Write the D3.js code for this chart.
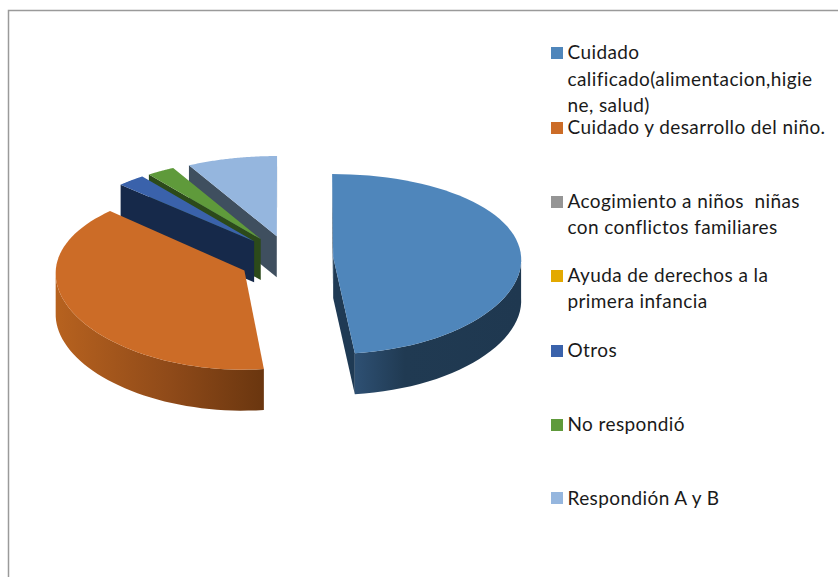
<!DOCTYPE html>
<html><head><meta charset="utf-8">
<script src="https://cdn.jsdelivr.net/npm/d3@7"></script>
<style>html,body{margin:0;padding:0;background:#fff}svg{display:block}text{font-family:Lato,"Open Sans",sans-serif;white-space:pre;letter-spacing:.4px}</style>
</head><body><svg id="c" width="838" height="577"></svg>
<script>
const categories = ["Cuidado calificado(alimentacion,higiene, salud)","Cuidado y desarrollo del niño.","Acogimiento a niños  niñas con conflictos familiares","Ayuda de derechos a la primera infancia","Otros","No respondió","Respondión A y B"];
const legendLines = [["Cuidado","calificado(alimentacion,higie","ne, salud)"],["Cuidado y desarrollo del niño."],["Acogimiento a niños  niñas","con conflictos familiares"],["Ayuda de derechos a la","primera infancia"],["Otros"],["No respondió"],["Respondión A y B"]];
const values = [48.3,38.7,0,0,2.5,2.5,8];
const explosion = [0.23,0.27,0,0,0.285,0.285,0.285];
const explosionY = [0.9,1.15,0.9,0.9,0.9,0.9,0.9];
const topColors = ["#4f86bb","#cc6c27","#959595","#e3a900","#3a62ab","#5f9a3b","#95b6de"];
const sideColors = ["#1f3a54","#8a4718","#555555","#7a5c00","#16294a","#2c4a1a","#3f4f5f"];
const wallStops = [["#2e5073","#203a52","#1f3850"],["#b7621f","#8f4a19","#6a360f"],null,null,null,null,null];
const legendY = [53,128,202,276,351,425,498];
const legendLineY = [[59,86,112],[134],[208,234],[282,308],[357],[431],[505]];

const svg = d3.select("#c");
const cx=290, cy=258, sx=188, sy=89.5, Dy=13, Dx=40, depth=41;
const proj=(x,y,z=0)=>{
  const p=Dy/(Dy+y), q=Dx/(Dx+y);
  return [cx+sx*x*q, cy-sy*y*p+depth*z];
};

const frame = svg.append("g").attr("fill","none").attr("stroke","#9a9a9a").attr("stroke-width",1.5);
frame.append("path").attr("d",d3.line()([[8.5,577],[8.5,10.5],[838,10.5]]));

const defs = svg.append("defs");
const arcs = d3.pie().sort(null).value(d=>d)(values);
const line = d3.line();
const drawOrder=[6,5,4,1,0];

drawOrder.forEach(i=>{
  const a=arcs[i], mid=(a.startAngle+a.endAngle)/2, e=explosion[i];
  const ox=e*Math.sin(mid), oy=e*Math.cos(mid)*explosionY[i];
  const pt=(t,r,z)=>proj(ox+r*Math.sin(t),oy+r*Math.cos(t),z);
  const ts=d3.range(0,61).map(k=>a.startAngle+(a.endAngle-a.startAngle)*k/60);
  const g=svg.append("g").attr("class","slice");
  const midPt=pt(mid,1,0), apex=pt(0,0,0);
  [a.startAngle,a.endAngle].forEach(t=>{
    const o=pt(t,1,0);
    const ly=apex[1]+(o[1]-apex[1])*(midPt[0]-apex[0])/(o[0]-apex[0]);
    if(midPt[1]<ly){
      g.append("path").attr("fill",sideColors[i])
       .attr("d",line([pt(0,0,0),pt(t,1,0),pt(t,1,1),pt(0,0,1)])+"Z");
    }
  });
  const front=ts.filter(t=>t>=Math.PI/2-0.02&&t<=Math.PI*1.5+0.02);
  if(front.length&&wallStops[i]){
    const xs=front.map(t=>pt(t,1,0)[0]);
    const gid="w"+i;
    const lg=defs.append("linearGradient").attr("id",gid).attr("gradientUnits","userSpaceOnUse")
      .attr("x1",d3.min(xs)).attr("x2",d3.max(xs)).attr("y1",0).attr("y2",0);
    const offs=i===0?[0,0.3,1]:[0,0.55,1];
    wallStops[i].forEach((c,k)=>lg.append("stop").attr("offset",offs[k]).attr("stop-color",c));
    const poly=[...front.map(t=>pt(t,1,0)),...front.slice().reverse().map(t=>pt(t,1,1))];
    g.append("path").attr("fill",`url(#${gid})`).attr("d",line(poly)+"Z");
  }
  g.append("path").attr("fill",topColors[i]).attr("d",line([apex,...ts.map(t=>pt(t,1,0))])+"Z");
});

const lg=svg.append("g");
categories.forEach((c,i)=>{
  lg.append("rect").attr("x",551).attr("y",legendY[i]-6).attr("width",12).attr("height",12).attr("fill",topColors[i]);
  legendLines[i].forEach((s,k)=>{
    lg.append("text").attr("x",567.5).attr("y",legendLineY[i][k]).attr("font-size",19).attr("fill","#1a1a1a").text(s);
  });
});
</script></body></html>
